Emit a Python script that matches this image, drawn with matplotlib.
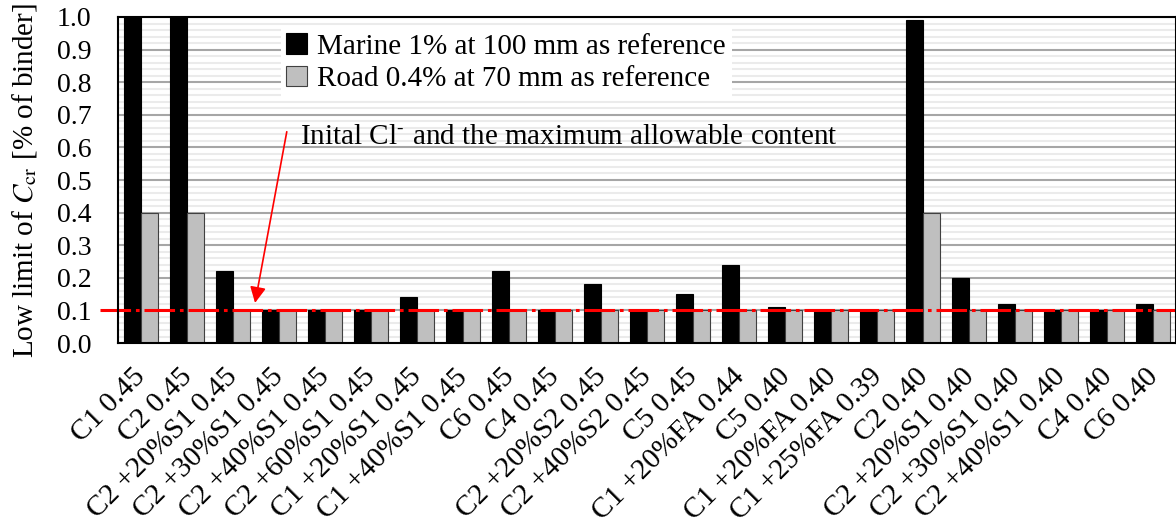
import numpy as np
import matplotlib
matplotlib.use("Agg")
import matplotlib.pyplot as plt
import matplotlib.transforms as mtransforms
from matplotlib.ticker import MultipleLocator

plt.rcParams['font.family'] = ['Liberation Serif', 'DejaVu Serif']
plt.rcParams['mathtext.fontset'] = 'stix'

# mixes and w/b ratios
mixes = ["C1 0.45", "C2 0.45", "C2 +20%S1 0.45", "C2 +30%S1 0.45",
         "C2 +40%S1 0.45", "C2 +60%S1 0.45", "C1 +20%S1 0.45",
         "C1 +40%S1 0.45", "C6 0.45", "C4 0.45", "C2 +20%S2 0.45",
         "C2 +40%S2 0.45", "C5 0.45", "C1 +20%FA 0.44", "C5 0.40",
         "C1 +20%FA 0.40", "C1 +25%FA 0.39", "C2 0.40", "C2 +20%S1 0.40",
         "C2 +30%S1 0.40", "C2 +40%S1 0.40", "C4 0.40", "C6 0.40"]

# low limit of Ccr, % of binder
marine = [1.0, 1.0, 0.22, 0.10, 0.10, 0.10, 0.14, 0.10, 0.22, 0.10, 0.18,
          0.10, 0.15, 0.24, 0.11, 0.10, 0.10, 0.99, 0.20, 0.12, 0.10, 0.10, 0.12]
road = [0.40, 0.40, 0.10, 0.10, 0.10, 0.10, 0.10, 0.10, 0.10, 0.10, 0.10,
        0.10, 0.10, 0.10, 0.10, 0.10, 0.10, 0.40, 0.10, 0.10, 0.10, 0.10, 0.10]

initial_cl = 0.1

x = np.arange(len(mixes))
w = 0.36

fig = plt.figure(figsize=(11.76, 5.31), dpi=100)
ax = fig.add_axes([0.1003, 0.354, 0.8997, 0.614])

ax.bar(x - w / 2, marine, w, color='black', edgecolor='black', lw=0.8,
       label="Marine 1% at 100 mm as reference", zorder=3)
ax.bar(x + w / 2, road, w, color='#bfbfbf', edgecolor='#404040', lw=0.8,
       label="Road 0.4% at 70 mm as reference", zorder=3)

ax.set_xlim(-0.5, len(mixes) - 0.5)
ax.set_ylim(0, 1.0)
ax.yaxis.set_major_locator(MultipleLocator(0.1))
ax.yaxis.set_minor_locator(MultipleLocator(0.02))
ax.grid(which='major', axis='y', color='#a6a6a6', lw=1.5, zorder=1)
ax.grid(which='minor', axis='y', color='#ebebeb', lw=1.5, zorder=0)
ax.tick_params(axis='both', which='both', length=0)
ax.tick_params(axis='y', pad=19, labelsize=20)
ax.set_yticks(np.arange(0, 1.01, 0.1))
ax.set_yticklabels([f"{v:.1f}" for v in np.arange(0, 1.01, 0.1)])
ax.set_xticks(x)
ax.set_xticklabels(mixes, rotation=45, ha='right', rotation_mode='anchor',
                   fontsize=21)
ax.tick_params(axis='x', pad=15)
# nudge the slanted labels a little to the left
shift = mtransforms.ScaledTranslation(-6 / 72, 0, fig.dpi_scale_trans)
for lab in ax.get_xticklabels():
    lab.set_transform(lab.get_transform() + shift)
for s in ax.spines.values():
    s.set_linewidth(1.5)
    s.set_zorder(7)

ax.set_ylabel(r"Low limit of $C_{\rm cr}$ [% of binder]", fontsize=21,
              labelpad=13)

# dash-dot line for initial chloride content, runs a bit past the left spine
ax.axhline(initial_cl, xmin=-0.017, xmax=1.0, color='red', lw=2.2,
           ls=(0, (10, 1.6, 1.2, 1.6)), clip_on=False, zorder=4)

# label and arrow pointing down to the line
ax.text(3.46, 0.632, r"Inital Cl$^{\text{-}}$ and the maximum allowable content",
        fontsize=21, va='center', ha='left', zorder=6)
ax.annotate("", xy=(2.48, 0.123), xytext=(3.17, 0.648),
            arrowprops=dict(arrowstyle='-|>', color='red', lw=1.2,
                            mutation_scale=24, shrinkA=0, shrinkB=0),
            zorder=6)

leg = ax.legend(loc='upper left', bbox_to_anchor=(0.14, 1.012), fontsize=21,
                frameon=True, fancybox=False, edgecolor='none',
                handlelength=0.7, handleheight=0.7, handletextpad=0.35,
                borderpad=0.2, labelspacing=0.2, framealpha=1)
leg.set_zorder(6)

fig.savefig("out.png", dpi=100)
